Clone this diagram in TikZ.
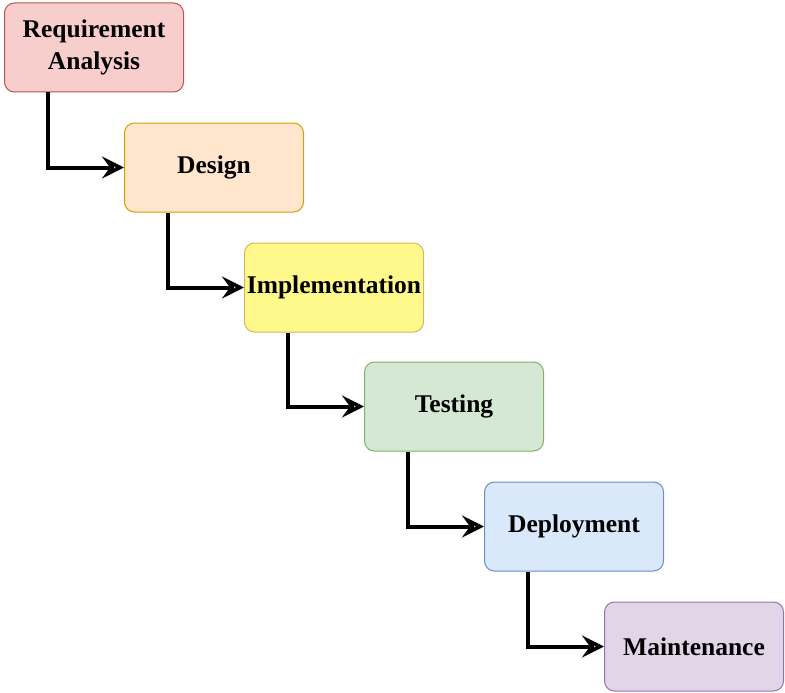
\documentclass[tikz,border=0pt]{standalone}
\usepackage{fontspec}
\setmainfont{Liberation Serif}
\usetikzlibrary{arrows.meta}
\definecolor{f1}{HTML}{F8CECC}\definecolor{s1}{HTML}{B85450}
\definecolor{f2}{HTML}{FFE6CC}\definecolor{s2}{HTML}{D79B00}
\definecolor{f3}{HTML}{FFF88A}\definecolor{s3}{HTML}{D6B656}
\definecolor{f4}{HTML}{D5E8D4}\definecolor{s4}{HTML}{82B366}
\definecolor{f5}{HTML}{DAE8FC}\definecolor{s5}{HTML}{6C8EBF}
\definecolor{f6}{HTML}{E1D5E7}\definecolor{s6}{HTML}{9673A6}
\begin{document}
\begin{tikzpicture}[x=1pt,y=-1pt,
  phase/.style={draw, line width=1pt, rounded corners=10pt, minimum width=179pt, minimum height=89pt,
    align=center, inner sep=0pt, font=\fontsize{25.5}{32}\selectfont\bfseries},
  flow/.style={line width=4pt, -{Triangle[open=false,length=22pt,width=22pt,inset=8pt]}}]
\useasboundingbox (0,0) rectangle (785,693);
\node[phase, fill=f1, draw=s1] (a) at (94,47.5) {Requirement\\Analysis};
\node[phase, fill=f2, draw=s2] (b) at (214,167.5) {Design};
\node[phase, fill=f3, draw=s3] (c) at (334,287.5) {Implementation};
\node[phase, fill=f4, draw=s4] (d) at (454,406.5) {Testing};
\node[phase, fill=f5, draw=s5] (e) at (574,526.5) {Deployment};
\node[phase, fill=f6, draw=s6] (f) at (694,646.5) {Maintenance};
\foreach \p/\q/\x in {a/b/48,b/c/168,c/d/288,d/e/408,e/f/528}{
  \draw[flow] (\x,0 |- \p.south) -- (\x,0 |- \q.west) -- (\q.west);
}
\end{tikzpicture}
\end{document}
